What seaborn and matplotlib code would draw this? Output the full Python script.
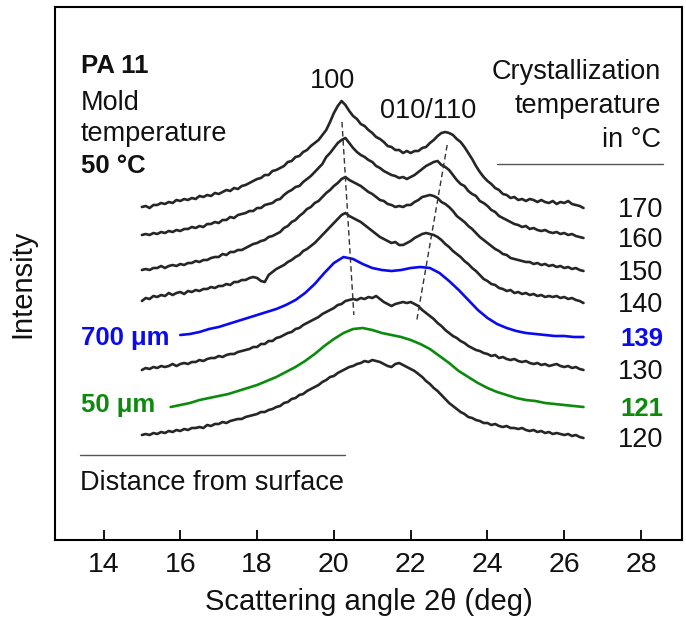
import numpy as np
import pandas as pd
import matplotlib
matplotlib.use("Agg")
import matplotlib.pyplot as plt
import seaborn as sns

# Sample grid of the noisy (measured) traces, deg
angle = np.round(np.arange(15.0, 26.55, 0.1), 1)
# Sample grids of the two smooth traces
angle_139 = np.round(np.arange(16.0, 26.51, 0.25), 2)
angle_121 = np.round(np.arange(15.75, 26.51, 0.25), 2)

# Trace levels (pixels below the top of the frame)
t170 = [207, 206, 208, 205, 205, 203, 204, 202, 203, 200,
        201, 199, 200, 198, 199, 196, 197, 195, 196, 193,
        194, 192, 190, 191, 188, 189, 186, 185, 183, 181,
        179, 178, 175, 175, 171, 170, 168, 166, 162, 161,
        157, 156, 152, 150, 146, 143, 140, 135, 130, 122,
        113, 106, 101, 105, 111, 116, 119, 124, 126, 130,
        133, 137, 139, 142, 146, 147, 150, 150, 153, 151,
        153, 151, 151, 148, 147, 143, 140, 136, 133, 132,
        133, 135, 139, 142, 147, 153, 159, 166, 172, 177,
        181, 184, 188, 190, 194, 195, 198, 197, 200, 199,
        201, 199, 200, 202, 200, 202, 203, 201, 204, 202,
        203, 201, 204, 205, 206, 208]
t160 = [235, 234, 235, 233, 234, 232, 233, 231, 232, 230,
        231, 229, 229, 227, 228, 226, 227, 224, 224, 222,
        223, 220, 220, 217, 218, 215, 214, 213, 211, 211,
        208, 208, 205, 204, 203, 200, 199, 195, 192, 190,
        187, 186, 182, 179, 176, 172, 168, 164, 157, 153,
        148, 143, 140, 138, 143, 148, 152, 155, 157, 160,
        162, 166, 168, 171, 173, 175, 176, 178, 177, 179,
        177, 175, 172, 169, 166, 164, 162, 161, 165, 167,
        170, 175, 180, 184, 186, 191, 194, 196, 201, 203,
        206, 210, 212, 216, 218, 220, 222, 224, 225, 227,
        226, 229, 228, 230, 231, 230, 232, 233, 232, 234,
        233, 235, 234, 236, 237, 238]
t150 = [270, 269, 270, 268, 268, 266, 268, 266, 265, 266,
        264, 265, 263, 263, 261, 262, 260, 260, 258, 257,
        257, 254, 255, 252, 252, 250, 250, 248, 246, 244,
        243, 241, 240, 237, 236, 234, 232, 228, 226, 222,
        220, 216, 213, 209, 207, 203, 201, 197, 193, 190,
        186, 183, 179, 177, 180, 182, 184, 186, 189, 192,
        194, 197, 200, 201, 204, 205, 207, 206, 207, 205,
        205, 202, 200, 197, 196, 195, 196, 198, 202, 204,
        207, 211, 216, 219, 222, 226, 229, 233, 237, 240,
        243, 246, 249, 251, 254, 255, 258, 259, 260, 261,
        262, 262, 264, 263, 265, 264, 266, 265, 267, 266,
        268, 267, 269, 268, 270, 271]
t140 = [301, 298, 299, 296, 297, 295, 296, 293, 295, 293,
        292, 294, 291, 292, 290, 291, 289, 289, 287, 288,
        286, 286, 284, 285, 282, 282, 280, 280, 278, 277,
        278, 281, 282, 275, 272, 269, 267, 265, 262, 260,
        257, 255, 251, 249, 246, 243, 239, 235, 231, 227,
        223, 219, 215, 213, 216, 218, 220, 222, 225, 228,
        231, 234, 237, 239, 241, 243, 242, 245, 245, 243,
        241, 238, 236, 234, 233, 234, 235, 237, 240, 244,
        247, 251, 254, 257, 261, 264, 268, 271, 275, 279,
        281, 284, 285, 288, 289, 291, 290, 293, 292, 294,
        293, 295, 294, 296, 295, 297, 296, 297, 296, 298,
        297, 299, 298, 300, 301, 303]
t139 = [335, 334, 332, 329, 327, 324, 321, 318, 315, 312,
        309, 305, 300, 293, 284, 273, 263, 257, 259, 264,
        268, 270, 271, 270, 268, 267, 268, 273, 281, 290,
        300, 310, 318, 324, 328, 331, 333, 334, 335, 336,
        336, 337, 337]
t130 = [370, 368, 369, 367, 368, 366, 367, 366, 364, 366,
        364, 363, 364, 362, 362, 360, 361, 359, 358, 358,
        356, 357, 355, 354, 354, 352, 351, 350, 349, 347,
        347, 344, 344, 341, 341, 338, 337, 335, 333, 332,
        329, 328, 325, 323, 321, 319, 317, 314, 312, 310,
        308, 305, 304, 301, 300, 299, 300, 298, 299, 297,
        298, 296, 299, 302, 304, 306, 304, 303, 302, 303,
        302, 304, 306, 310, 313, 316, 319, 323, 326, 330,
        333, 336, 338, 341, 343, 346, 348, 350, 351, 353,
        354, 356, 355, 358, 357, 359, 360, 359, 361, 362,
        361, 363, 364, 363, 365, 364, 366, 365, 364, 366,
        367, 366, 368, 367, 369, 370]
t121 = [407, 405, 403, 400, 398, 396, 394, 391, 388, 385,
        381, 377, 372, 367, 361, 354, 346, 339, 333, 329,
        328, 330, 333, 335, 337, 340, 344, 349, 356, 363,
        371, 377, 383, 388, 392, 395, 398, 400, 401, 403,
        404, 405, 406, 407]
t120 = [435, 434, 435, 433, 434, 432, 433, 431, 432, 430,
        431, 429, 430, 428, 428, 427, 428, 425, 426, 424,
        424, 422, 423, 421, 420, 419, 419, 417, 416, 415,
        414, 412, 412, 410, 409, 407, 406, 403, 402, 399,
        398, 395, 394, 391, 389, 387, 385, 382, 380, 377,
        376, 373, 371, 369, 367, 366, 364, 363, 361, 362,
        360, 361, 362, 364, 366, 367, 364, 363, 365, 367,
        369, 371, 374, 377, 381, 384, 388, 391, 395, 399,
        403, 406, 409, 412, 414, 417, 418, 420, 421, 423,
        423, 425, 424, 426, 427, 426, 428, 428, 429, 428,
        430, 431, 430, 432, 431, 433, 432, 434, 433, 434,
        435, 434, 436, 435, 437, 438]

temps = ["170", "160", "150", "140", "139", "130", "121", "120"]
traces = [t170, t160, t150, t140, t139, t130, t121, t120]
grids = [angle, angle, angle, angle, angle_139, angle, angle_121, angle]

# Peak shift guides (angle, level in px below frame top)
peak100_angle = [20.21, 20.52]
peak100_depth = [122, 315]
peak010_angle = [22.95, 22.16]
peak010_depth = [145, 320]

TOP = 560  # convert depth to intensity

BLACK = "#262626"
BLUE = "#0a0af0"
GREEN = "#0c8a0c"
colors = {"170": BLACK, "160": BLACK, "150": BLACK, "140": BLACK,
          "139": BLUE, "130": BLACK, "121": GREEN, "120": BLACK}

rows = []
for t, g, tr in zip(temps, grids, traces):
    for a, d in zip(g, tr):
        rows.append({"angle": a, "intensity": TOP - d, "temp": t})
df = pd.DataFrame(rows)

sns.set_theme(style="white")
plt.rcParams["font.family"] = ["Liberation Sans", "DejaVu Sans"]

W, H = 686, 630
fig = plt.figure(figsize=(W / 100, H / 100), dpi=100)
ax = fig.add_axes([55 / W, 90 / H, 627 / W, 533 / H])


def pos(px, py):
    # picture pixel -> data coordinates
    return 14 + (px - 103.5) / 38.4, TOP - py


sns.lineplot(data=df, x="angle", y="intensity", hue="temp", hue_order=temps,
             palette=colors, estimator=None, sort=False, legend=False,
             linewidth=1.9, ax=ax)

for xs, ds in [(peak100_angle, peak100_depth), (peak010_angle, peak010_depth)]:
    ax.plot(xs, [TOP - d for d in ds], color="#333333", lw=1.0,
            linestyle=(0, (4, 2.5)))

ax.set_xlim(pos(55, 0)[0], pos(682, 0)[0])
ax.set_ylim(TOP - 540, TOP - 7)
ax.set_xticks([14, 16, 18, 20, 22, 24, 26, 28])
ax.set_yticks([])
ax.tick_params(axis="x", direction="in", length=7, width=1.3, pad=9,
               labelsize=20.5, color="black", labelcolor="#111111", bottom=True)
for s in ax.spines.values():
    s.set_color("black")
    s.set_linewidth(1.5)

ax.set_xlabel("Scattering angle 2θ (deg)", fontsize=21, color="#111111",
              labelpad=7)
ax.set_ylabel("Intensity", fontsize=21, color="#111111")
ax.yaxis.set_label_coords(-0.03, 0.48)

fs = 19.5
fb = 18.5
txt = "#111111"
ax.text(*pos(81, 73), "PA 11", fontsize=fb, fontweight="bold", color=txt)
ax.text(*pos(81, 110), "Mold", fontsize=fs, color=txt)
ax.text(*pos(81, 141), "temperature", fontsize=fs, color=txt)
ax.text(*pos(81, 173), "50 °C", fontsize=fb, fontweight="bold", color=txt)

ax.text(*pos(333, 88), "100", fontsize=fs, ha="center", color=txt)
ax.text(*pos(428, 118), "010/110", fontsize=fs, ha="center", color=txt)

ax.text(*pos(661, 79), "Crystallization", fontsize=fs, ha="right", color=txt)
ax.text(*pos(661, 113), "temperature", fontsize=fs, ha="right", color=txt)
ax.text(*pos(661, 147), "in °C", fontsize=fs, ha="right", color=txt)
x0, y0 = pos(497, 164)
x1, _ = pos(663, 164)
ax.plot([x0, x1], [y0, y0], color="#555555", lw=1.0)

for t, tr in zip(temps, traces):
    bold = t in ("139", "121")
    ax.text(pos(663, 0)[0], TOP - tr[-1] - 9, t, fontsize=fb if bold else fs,
            ha="right", color=colors[t] if bold else txt,
            fontweight="bold" if bold else "normal")

ax.text(*pos(81, 345), "700 μm", fontsize=fb, fontweight="bold", color=BLUE)
ax.text(*pos(81, 412), "50 μm", fontsize=fb, fontweight="bold", color=GREEN)

x0, y0 = pos(80, 455)
x1, _ = pos(345, 455)
ax.plot([x0, x1], [y0, y0], color="#555555", lw=1.0)
ax.text(*pos(80, 490), "Distance from surface", fontsize=fs, color=txt)

fig.savefig("out.png", dpi=100)
